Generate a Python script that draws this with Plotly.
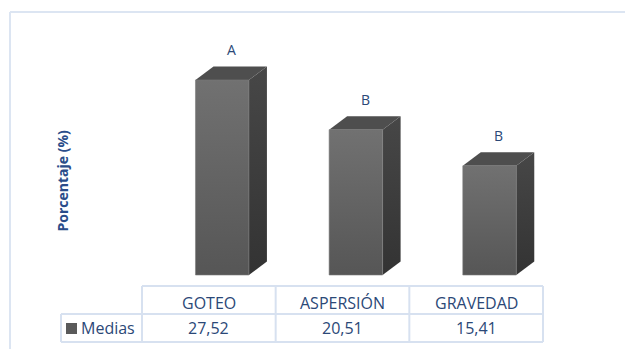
import plotly.graph_objects as go

# ---- data -------------------------------------------------------------
categories = ["GOTEO", "ASPERSIÓN", "GRAVEDAD"]
medias = [27.52, 20.51, 15.41]
letters = ["A", "B", "B"]
series_name = "Medias"
y_title = "Porcentaje (%)"

# ---- canvas / scale ---------------------------------------------------
W, H = 625, 349
# table column edges (px) map to category bounds -0.5 .. 2.5
COL_LEFT_PX, COL_RIGHT_PX = 142, 543
PX_PER_X = (COL_RIGHT_PX - COL_LEFT_PX) / len(categories)
BASE_PX = 275            # pixel row of value 0
PX_PER_Y = 7.086         # pixels per percentage unit

x_range = [-0.5 - COL_LEFT_PX / PX_PER_X, 2.5 + (W - COL_RIGHT_PX) / PX_PER_X]
y_range = [-(H - BASE_PX) / PX_PER_Y, BASE_PX / PX_PER_Y]


def px(xp):
    return xp / W


def py(yp):
    return 1 - yp / H


# 3D bar geometry (category / value units)
BAR_W = 0.40
BAR_OFF = 0.10
DEPTH_X = 18 / PX_PER_X
DEPTH_Y = 13.5 / PX_PER_Y

TEXT = "#2B4877"
GRID = "#D7E1F0"
FONT = "Open Sans"

fig = go.Figure()

for i, v in enumerate(medias):
    x0 = i + BAR_OFF - BAR_W / 2
    x1 = i + BAR_OFF + BAR_W / 2
    # side face
    fig.add_trace(go.Scatter(
        x=[x1, x1 + DEPTH_X, x1 + DEPTH_X, x1, x1],
        y=[0, DEPTH_Y, v + DEPTH_Y, v, 0],
        fill="toself", mode="none",
        fillgradient=dict(type="vertical",
                          colorscale=[[0, "#333333"], [1, "#474747"]]),
        hoverinfo="skip", showlegend=False))
    # top face
    fig.add_trace(go.Scatter(
        x=[x0, x0 + DEPTH_X, x1 + DEPTH_X, x1, x0],
        y=[v, v + DEPTH_Y, v + DEPTH_Y, v, v],
        fill="toself", mode="none", fillcolor="#4E4E4E",
        hoverinfo="skip", showlegend=False))
    # front face
    fig.add_trace(go.Scatter(
        x=[x0, x1, x1, x0, x0],
        y=[0, 0, v, v, 0],
        fill="toself", mode="lines",
        line=dict(color="#7A7A7A", width=0.6),
        fillgradient=dict(type="vertical",
                          colorscale=[[0, "#565656"], [1, "#717171"]]),
        name=series_name, hoverinfo="skip", showlegend=False))
    # significance letter
    fig.add_annotation(x=i + 0.17, y=v + 4.3, text=letters[i],
                       xanchor="center", yanchor="middle",
                       showarrow=False, font=dict(family=FONT, size=14, color=TEXT))

# ---- data table -------------------------------------------------------
HDR_TOP, ROW_MID, ROW_BOT = 286, 314, 342
KEY_LEFT = 61
line = dict(color=GRID, width=2)
shapes = []
col_edges = [COL_LEFT_PX + k * PX_PER_X for k in range(len(categories) + 1)]
shapes.append(dict(type="line", xref="paper", yref="paper",
                   x0=px(COL_LEFT_PX), x1=px(COL_RIGHT_PX), y0=py(HDR_TOP), y1=py(HDR_TOP), line=line))
for yy in (ROW_MID, ROW_BOT):
    shapes.append(dict(type="line", xref="paper", yref="paper",
                       x0=px(KEY_LEFT), x1=px(COL_RIGHT_PX), y0=py(yy), y1=py(yy), line=line))
for xe in col_edges:
    shapes.append(dict(type="line", xref="paper", yref="paper",
                       x0=px(xe), x1=px(xe), y0=py(HDR_TOP), y1=py(ROW_BOT), line=line))
shapes.append(dict(type="line", xref="paper", yref="paper",
                   x0=px(KEY_LEFT), x1=px(KEY_LEFT), y0=py(ROW_MID), y1=py(ROW_BOT), line=line))

# legend key square
shapes.append(dict(type="rect", xref="paper", yref="paper",
                   x0=px(66), x1=px(77), y0=py(334), y1=py(323),
                   fillcolor="#5A5A5A", line=dict(width=0)))

# chart outline (runs off the right and bottom edges)
border = dict(color="#DCE5F2", width=2)
shapes.append(dict(type="line", xref="paper", yref="paper",
                   x0=px(10), x1=1, y0=py(12), y1=py(12), line=border))
shapes.append(dict(type="line", xref="paper", yref="paper",
                   x0=px(10), x1=px(10), y0=py(12), y1=0, line=border))

for i, (cat, v) in enumerate(zip(categories, medias)):
    fig.add_annotation(x=i, xref="x", y=py(303), yref="paper", text=cat,
                       xanchor="center", yanchor="middle",
                       showarrow=False, font=dict(family=FONT, size=16, color=TEXT))
    fig.add_annotation(x=i, xref="x", y=py(328), yref="paper",
                       text=f"{v:.2f}".replace(".", ","),
                       xanchor="center", yanchor="middle",
                       showarrow=False, font=dict(family=FONT, size=16, color=TEXT))

fig.add_annotation(x=px(79), xref="paper", y=py(328), yref="paper", text=series_name,
                   xanchor="left", yanchor="middle", showarrow=False,
                   font=dict(family=FONT, size=16, color=TEXT))

# value-axis title
fig.add_annotation(x=px(61.5), xref="paper", y=py(181), yref="paper", text=f"<b>{y_title}</b>",
                   textangle=-90, xanchor="center", yanchor="middle", showarrow=False,
                   font=dict(family=FONT, size=14, color="#2A4D8A"))

fig.update_layout(
    width=W, height=H,
    margin=dict(l=0, r=0, t=0, b=0),
    paper_bgcolor="white", plot_bgcolor="white",
    xaxis=dict(visible=False, range=x_range, fixedrange=True),
    yaxis=dict(visible=False, range=y_range, fixedrange=True),
    shapes=shapes,
    showlegend=False,
)

fig.write_html("out.html")
